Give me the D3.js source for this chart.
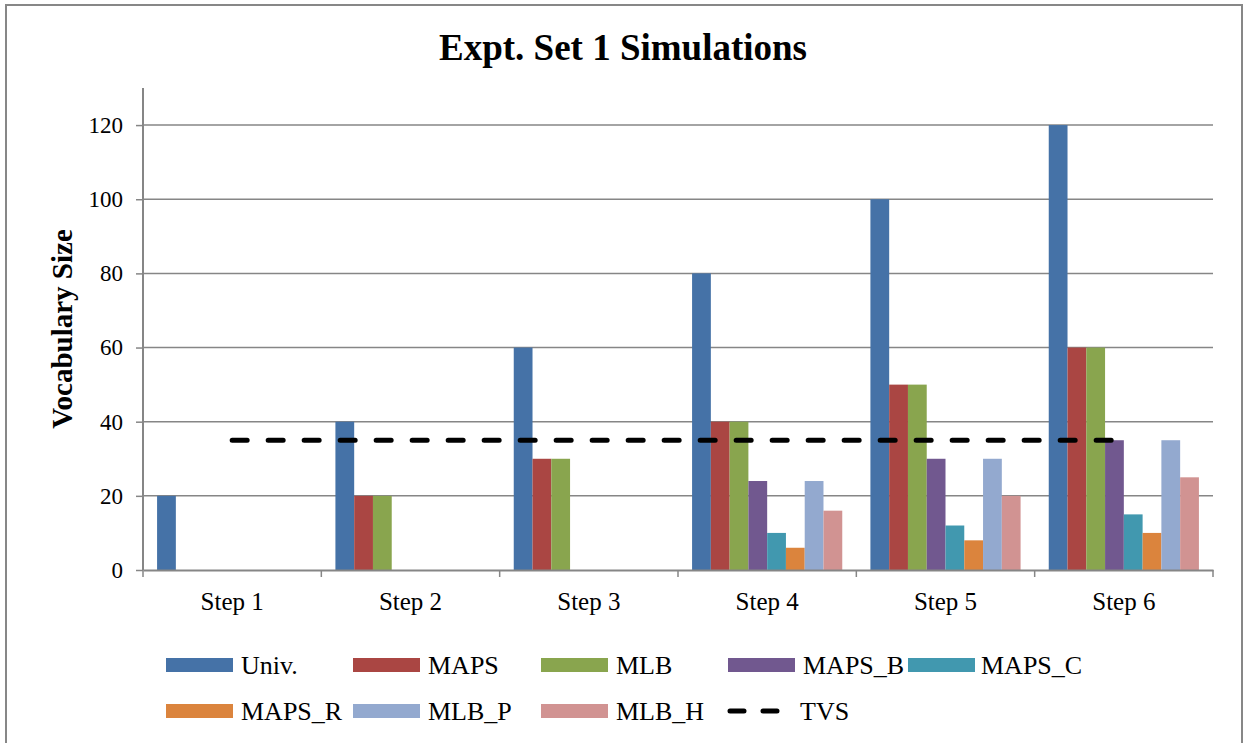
<!DOCTYPE html>
<html>
<head>
<meta charset="utf-8">
<script src="https://cdn.jsdelivr.net/npm/d3@7"></script>
<style>
  html, body { margin: 0; padding: 0; background: #fff; }
  #chart { width: 1244px; height: 743px; }
  text { font-family: "Liberation Serif", "Times New Roman", serif; fill: #000; }
</style>
</head>
<body>
<div id="chart"></div>
<script>
// data
const steps = ['Step 1', 'Step 2', 'Step 3', 'Step 4', 'Step 5', 'Step 6'];
const seriesNames = ['Univ.', 'MAPS', 'MLB', 'MAPS_B', 'MAPS_C', 'MAPS_R', 'MLB_P', 'MLB_H'];
const univ  = [20, 40, 60, 80, 100, 120];
const maps  = [0, 20, 30, 40, 50, 60];
const mlb   = [0, 20, 30, 40, 50, 60];
const mapsB = [0, 0, 0, 24, 30, 35];
const mapsC = [0, 0, 0, 10, 12, 15];
const mapsR = [0, 0, 0, 6, 8, 10];
const mlbP  = [0, 0, 0, 24, 30, 35];
const mlbH  = [0, 0, 0, 16, 20, 25];
const tvs   = [35, 35, 35, 35, 35, 35];
const yTicks = [0, 20, 40, 60, 80, 100, 120];

const colors = ['#4572A7', '#AA4643', '#89A54E', '#71588F', '#4198AF', '#DB843D', '#93A9CF', '#D19392'];
const seriesVals = [univ, maps, mlb, mapsB, mapsC, mapsR, mlbP, mlbH];

const W = 1244, H = 743;
const M = { t: 88, r: 31, b: 173, l: 143 };
const GRID = '#868686';

const svg = d3.select('#chart').append('svg')
  .attr('width', W)
  .attr('height', H)
  .style('display', 'block');

// outer frame
svg.append('rect')
  .attr('x', 6).attr('y', 5)
  .attr('width', 1236).attr('height', 760)
  .attr('fill', 'none')
  .attr('stroke', '#878787')
  .attr('stroke-width', 2);

const x = d3.scaleBand()
  .domain(steps)
  .range([M.l, W - M.r])
  .paddingInner(0).paddingOuter(0);

// Excel-like gap width ~150%
const bw = x.bandwidth() / (seriesNames.length + 1.5);
const xs = d3.scaleBand()
  .domain(seriesNames)
  .range([bw * 0.75, x.bandwidth() - bw * 0.75])
  .padding(0);

const y = d3.scaleLinear()
  .domain([0, 130])
  .range([H - M.b, M.t]);

// gridlines
svg.append('g')
  .selectAll('line')
  .data(yTicks.filter(d => d > 0))
  .enter().append('line')
  .attr('x1', M.l).attr('x2', W - M.r)
  .attr('y1', d => y(d)).attr('y2', d => y(d))
  .attr('stroke', GRID).attr('stroke-width', 1.5);

// bars
const flat = [];
seriesVals.forEach((vals, si) => {
  vals.forEach((v, ci) => flat.push({ s: seriesNames[si], si, c: steps[ci], v }));
});
svg.append('g')
  .selectAll('rect')
  .data(flat.filter(d => d.v > 0))
  .enter().append('rect')
  .attr('x', d => x(d.c) + xs(d.s))
  .attr('width', xs.bandwidth())
  .attr('y', d => y(d.v))
  .attr('height', d => y(0) - y(d.v))
  .attr('fill', d => colors[d.si]);

// TVS dashed line
const line = d3.line()
  .x((d, i) => x(steps[i]) + x.bandwidth() / 2)
  .y(d => y(d));
svg.append('path')
  .datum(tvs)
  .attr('d', line)
  .attr('fill', 'none')
  .attr('stroke', '#000')
  .attr('stroke-width', 5)
  .attr('stroke-linecap', 'round')
  .attr('stroke-dasharray', '15,21');

// y axis
const yAxis = svg.append('g')
  .attr('transform', `translate(${M.l},0)`)
  .call(d3.axisLeft(y).tickValues(yTicks).tickSize(7).tickPadding(13));
yAxis.select('.domain').attr('stroke', GRID).attr('stroke-width', 2)
  .attr('d', `M0,${y(130)}V${y(0)}`);
yAxis.selectAll('.tick line').attr('stroke', GRID).attr('stroke-width', 1.5);
yAxis.selectAll('.tick text')
  .style('font-family', '"Liberation Serif", serif')
  .style('font-size', '23px')
  .attr('fill', '#000');

// x axis
const xAxis = svg.append('g')
  .attr('transform', `translate(0,${y(0)})`)
  .call(d3.axisBottom(x).tickSize(0).tickPadding(22));
xAxis.select('.domain').attr('stroke', GRID).attr('stroke-width', 2);
xAxis.selectAll('.tick text')
  .style('font-family', '"Liberation Serif", serif')
  .style('font-size', '25px')
  .attr('fill', '#000');
svg.append('g')
  .selectAll('line')
  .data(d3.range(steps.length + 1))
  .enter().append('line')
  .attr('x1', i => M.l + i * x.bandwidth())
  .attr('x2', i => M.l + i * x.bandwidth())
  .attr('y1', y(0)).attr('y2', y(0) + 7)
  .attr('stroke', GRID).attr('stroke-width', 1.5);

// title
svg.append('text')
  .attr('x', 623).attr('y', 60)
  .attr('text-anchor', 'middle')
  .style('font-size', '37px')
  .style('font-weight', 'bold')
  .text('Expt. Set 1 Simulations');

// y axis title
svg.append('text')
  .attr('transform', `translate(72,${(y(0) + y(130)) / 2}) rotate(-90)`)
  .attr('text-anchor', 'middle')
  .style('font-size', '29px')
  .style('font-weight', 'bold')
  .text('Vocabulary Size');

// legend
const legendItems = seriesNames.map((n, i) => ({ name: n, color: colors[i], type: 'bar' }))
  .concat([{ name: 'TVS', color: '#000', type: 'line' }]);
const colX = [166, 353, 541, 728, 908];
const rowY = [665, 711];
const lg = svg.append('g');
legendItems.forEach((d, i) => {
  const r = i < 5 ? 0 : 1;
  const c = i < 5 ? i : i - 5;
  const g = lg.append('g').attr('transform', `translate(${colX[c]},${rowY[r]})`);
  if (d.type === 'bar') {
    g.append('rect')
      .attr('x', 0).attr('y', -7)
      .attr('width', 67).attr('height', 14)
      .attr('fill', d.color);
    g.append('text')
      .attr('x', c === 4 ? 73 : 75).attr('y', 9)
      .style('font-size', '26px')
      .text(d.name);
  } else {
    g.append('line')
      .attr('x1', 2).attr('x2', 52)
      .attr('y1', 0).attr('y2', 0)
      .attr('stroke', d.color)
      .attr('stroke-width', 5)
      .attr('stroke-linecap', 'round')
      .attr('stroke-dasharray', '14,19');
    g.append('text')
      .attr('x', 72).attr('y', 9)
      .style('font-size', '26px')
      .text(d.name);
  }
});
</script>
</body>
</html>
